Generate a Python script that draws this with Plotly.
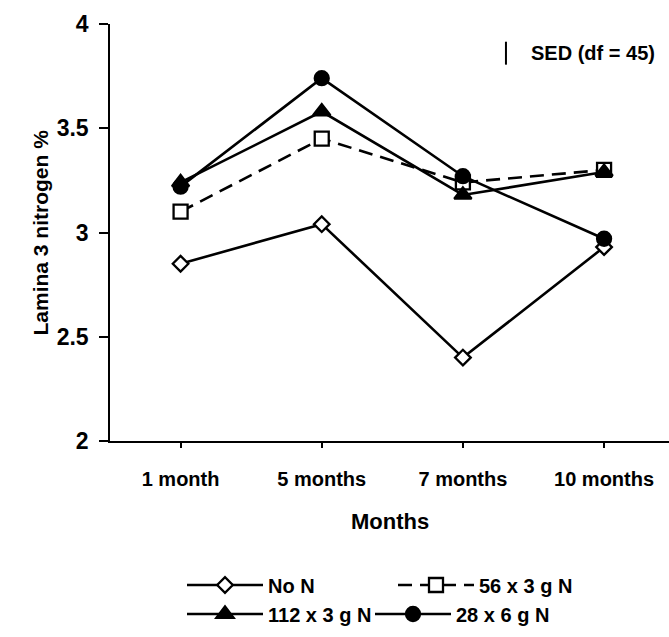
import plotly.graph_objects as go

# Sampling times and lamina 3 nitrogen (%) per fertiliser treatment
months = ["1 month", "5 months", "7 months", "10 months"]
no_n = [2.85, 3.04, 2.40, 2.93]
n_56x3 = [3.10, 3.45, 3.24, 3.30]
n_112x3 = [3.24, 3.58, 3.18, 3.29]
n_28x6 = [3.22, 3.74, 3.27, 2.97]

# Standard error of difference (df = 45)
sed = 0.11
sed_label = "SED (df = 45)"

y_ticks = [2, 2.5, 3, 3.5, 4]
y_tick_text = ["2", "2.5", "3", "3.5", "4"]

FONT = "Liberation Sans, Arial, sans-serif"
BLACK = "#000000"
LW = 2.6

fig = go.Figure()

# (name, values, symbol, size, fill, dash, legend row)
series = [
    ("No N", no_n, "diamond", 12, "white", "solid", "legend"),
    ("56 x 3 g N", n_56x3, "square", 14, "white", "14px,8px", "legend"),
    ("112 x 3 g N", n_112x3, "triangle-up", 15, BLACK, "solid", "legend2"),
    ("28 x 6 g N", n_28x6, "circle", 14, BLACK, "solid", "legend2"),
]
for name, vals, sym, size, fill, dash, leg in series:
    fig.add_trace(go.Scatter(
        x=list(range(len(months))), y=vals, name=name,
        mode="lines+markers",
        line=dict(color=BLACK, width=LW, dash=dash),
        marker=dict(symbol=sym, size=size, color=fill,
                    line=dict(color=BLACK, width=2.3)),
        legend=leg,
    ))

# SED bar drawn in data units
sed_x = 2.305
sed_y0 = 3.805
fig.add_trace(go.Scatter(
    x=[sed_x, sed_x], y=[sed_y0, sed_y0 + sed], mode="lines",
    line=dict(color=BLACK, width=2), showlegend=False, hoverinfo="skip",
))

fig.update_layout(
    width=669, height=637,
    margin=dict(l=110, r=0, t=24, b=196),
    paper_bgcolor="white", plot_bgcolor="white",
    font=dict(family=FONT, size=20, color=BLACK, weight="bold"),
    xaxis=dict(
        range=[-0.5, 3.46],
        tickmode="array", tickvals=list(range(len(months))), ticktext=months,
        tickson="boundaries", ticks="outside", ticklen=5, tickwidth=1.5, tickcolor=BLACK,
        showline=True, linecolor=BLACK, linewidth=1.5,
        showgrid=False, zeroline=False,
        tickfont=dict(family=FONT, size=20, color=BLACK, weight="bold"),
        ticklabelstandoff=14,
    ),
    yaxis=dict(
        range=[2, 4],
        tickmode="array", tickvals=y_ticks, ticktext=y_tick_text,
        ticks="outside", ticklen=9, tickwidth=1.5, tickcolor=BLACK,
        showline=True, linecolor=BLACK, linewidth=1.5,
        showgrid=False, zeroline=False,
        tickfont=dict(family=FONT, size=23, color=BLACK, weight="bold"),
        ticklabelstandoff=6,
    ),
    legend=dict(
        orientation="h", xref="container", yref="container",
        x=182 / 669, y=1 - 585 / 637, xanchor="left", yanchor="middle",
        itemwidth=76, entrywidth=120, bgcolor="rgba(0,0,0,0)",
        font=dict(family=FONT, size=20, color=BLACK, weight="bold"),
        traceorder="normal",
    ),
    legend2=dict(
        orientation="h", xref="container", yref="container",
        x=182 / 669, y=1 - 614 / 637, xanchor="left", yanchor="middle",
        itemwidth=76, entrywidth=97, bgcolor="rgba(0,0,0,0)",
        font=dict(family=FONT, size=20, color=BLACK, weight="bold"),
        traceorder="normal",
    ),
    annotations=[
        dict(text="Lamina 3 nitrogen %", textangle=-90, xref="paper", yref="paper",
             x=(40 - 110) / 559, y=0.5, xanchor="center", yanchor="middle",
             showarrow=False, font=dict(family=FONT, size=21, color=BLACK, weight="bold")),
        dict(text="Months", xref="paper", yref="paper",
             x=0.5, y=(441 - 521) / 417, xanchor="center", yanchor="middle",
             showarrow=False, font=dict(family=FONT, size=22, color=BLACK, weight="bold")),
        dict(text=sed_label, xref="x", yref="y", x=2.465, y=sed_y0 + sed / 2,
             xanchor="left", yanchor="middle", showarrow=False,
             font=dict(family=FONT, size=20, color=BLACK, weight="bold")),
    ],
)

fig.write_html("out.html")
